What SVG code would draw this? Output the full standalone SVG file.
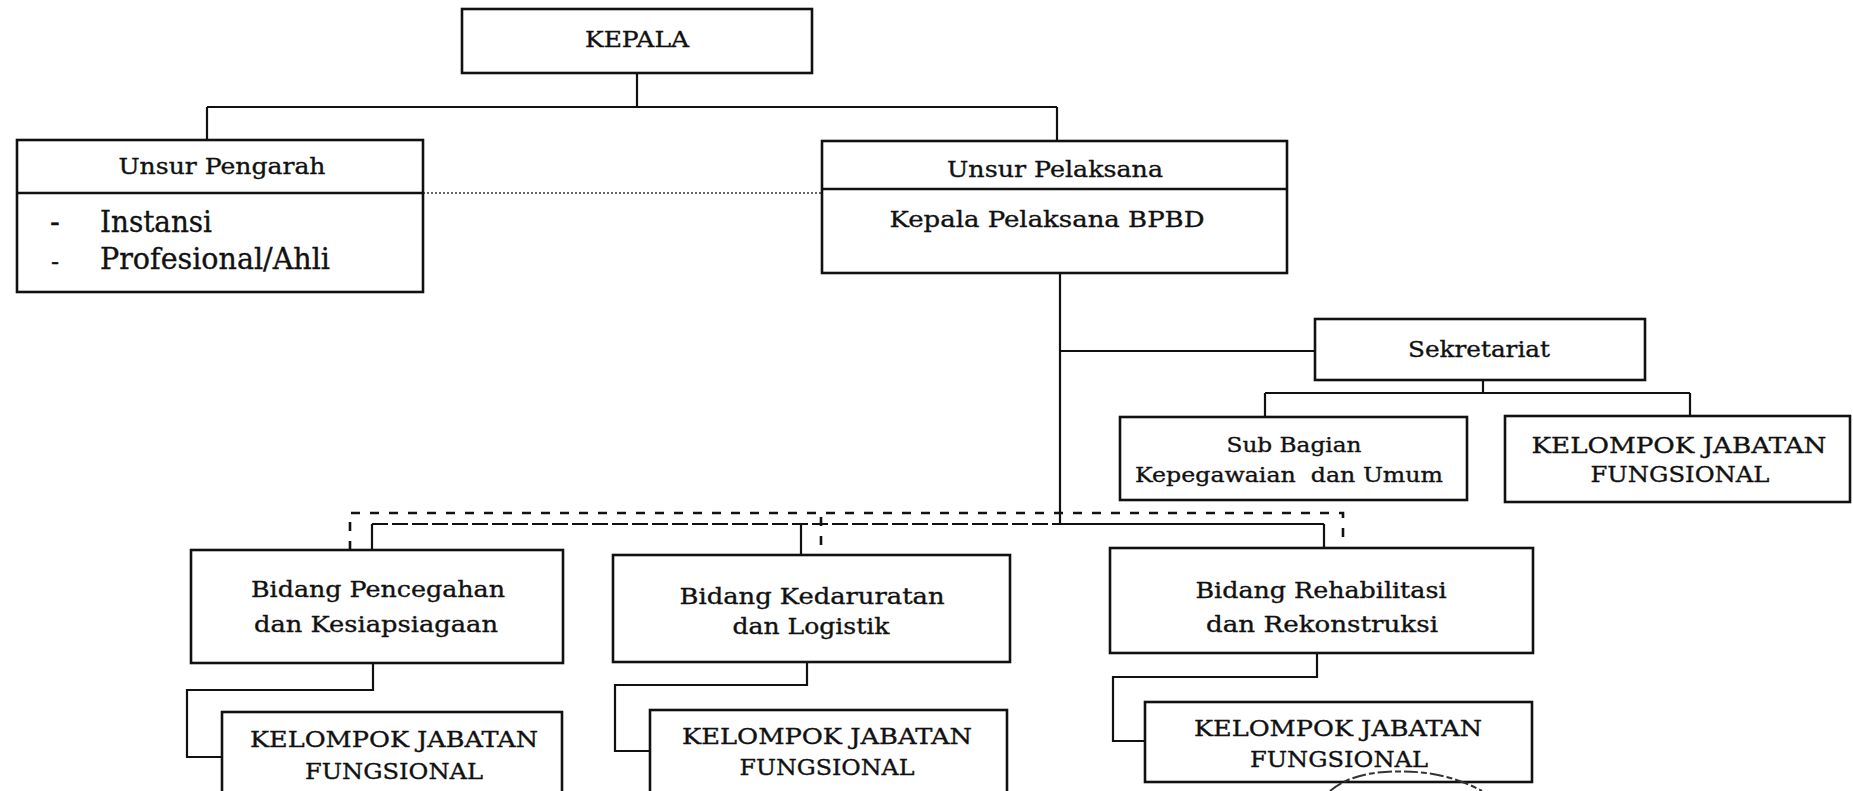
<svg xmlns="http://www.w3.org/2000/svg" width="1853" height="791" viewBox="0 0 1853 791">
<style>
.box{fill:#fff;stroke:#111;stroke-width:2.6}
.div{stroke:#111;stroke-width:2.6}
.ln{fill:none;stroke:#111;stroke-width:2.2}
.dash{fill:none;stroke:#111;stroke-width:2.6;stroke-dasharray:9 10}
.idash{fill:none;stroke:#111;stroke-width:2.2;stroke-dasharray:16 4}
.dot{fill:none;stroke:#333;stroke-width:1.5;stroke-dasharray:2 2}
.t{font-family:"DejaVu Serif","Liberation Serif",serif;fill:#111;stroke:#111;stroke-width:0.35;text-anchor:middle}
.tl{font-family:"DejaVu Serif","Liberation Serif",serif;fill:#111;stroke:#111;stroke-width:0.35;text-anchor:start}
</style>
<rect width="1853" height="791" fill="#fff"/>

<g id="connectors">
  <path class="ln" d="M637 73 V107 M207 107 H1057 M207 107 V140 M1057 107 V141"/>
  <path class="dot" d="M423 193 H822"/>
  <path class="ln" d="M1060 273 V524 M1060 351 H1315"/>
  <path class="ln" d="M1483 380 V393 M1265 393 H1690 M1265 393 V417 M1690 393 V416"/>
  <path class="idash" d="M372 524 H1060"/>
  <path class="ln" d="M1060 524 H1324 M372 524 V550 M801 524 V555 M1324 524 V548"/>
  <path class="dash" d="M350 550 V513 H1343 V548"/>
  <path class="dash" d="M821 517 V555"/>
  <path class="ln" d="M373 663 V690 H187 V757 H222"/>
  <path class="ln" d="M807 662 V685 H615 V751 H650"/>
  <path class="ln" d="M1317 653 V677 H1113 V741 H1145"/>
</g>

<g id="kepala">
  <rect class="box" x="462" y="9" width="350" height="64"/>
  <text class="t" x="637" y="47" font-size="22" textLength="104" lengthAdjust="spacingAndGlyphs">KEPALA</text>
</g>

<g id="unsur-pengarah">
  <rect class="box" x="17" y="140" width="406" height="152"/>
  <line class="div" x1="17" y1="193" x2="423" y2="193"/>
  <text class="t" x="222" y="174" font-size="23" textLength="207" lengthAdjust="spacingAndGlyphs">Unsur Pengarah</text>
  <text class="tl" x="50" y="232" font-size="29">-</text>
  <text class="tl" x="100" y="232" font-size="29" textLength="112" lengthAdjust="spacingAndGlyphs">Instansi</text>
  <text class="tl" x="51" y="270" font-size="24">-</text>
  <text class="tl" x="100" y="269" font-size="29" textLength="230" lengthAdjust="spacingAndGlyphs">Profesional/Ahli</text>
</g>

<g id="unsur-pelaksana">
  <rect class="box" x="822" y="141" width="465" height="132"/>
  <line class="div" x1="822" y1="189" x2="1287" y2="189"/>
  <text class="t" x="1055" y="177" font-size="23" textLength="216" lengthAdjust="spacingAndGlyphs">Unsur Pelaksana</text>
  <text class="t" x="1047" y="227" font-size="23" textLength="315" lengthAdjust="spacingAndGlyphs">Kepala Pelaksana BPBD</text>
</g>

<g id="sekretariat">
  <rect class="box" x="1315" y="319" width="330" height="61"/>
  <text class="t" x="1479" y="357" font-size="23" textLength="142" lengthAdjust="spacingAndGlyphs">Sekretariat</text>
</g>

<g id="sub-bagian">
  <rect class="box" x="1120" y="417" width="347" height="83"/>
  <text class="t" x="1294" y="452" font-size="21" textLength="135" lengthAdjust="spacingAndGlyphs">Sub Bagian</text>
  <text class="t" x="1289" y="482" font-size="21" textLength="308" lengthAdjust="spacingAndGlyphs" xml:space="preserve">Kepegawaian  dan Umum</text>
</g>

<g id="kjf-sekretariat">
  <rect class="box" x="1505" y="416" width="345" height="86"/>
  <text class="t" x="1679" y="453" font-size="23" textLength="295" lengthAdjust="spacingAndGlyphs">KELOMPOK JABATAN</text>
  <text class="t" x="1680" y="482" font-size="23" textLength="179" lengthAdjust="spacingAndGlyphs">FUNGSIONAL</text>
</g>

<g id="bidang-pencegahan">
  <rect class="box" x="191" y="550" width="372" height="113"/>
  <text class="t" x="378" y="597" font-size="22" textLength="254" lengthAdjust="spacingAndGlyphs">Bidang Pencegahan</text>
  <text class="t" x="376" y="632" font-size="22" textLength="244" lengthAdjust="spacingAndGlyphs">dan Kesiapsiagaan</text>
</g>

<g id="bidang-kedaruratan">
  <rect class="box" x="613" y="555" width="397" height="107"/>
  <text class="t" x="812" y="604" font-size="22" textLength="265" lengthAdjust="spacingAndGlyphs">Bidang Kedaruratan</text>
  <text class="t" x="811" y="634" font-size="22" textLength="157" lengthAdjust="spacingAndGlyphs">dan Logistik</text>
</g>

<g id="bidang-rehabilitasi">
  <rect class="box" x="1110" y="548" width="423" height="105"/>
  <text class="t" x="1321" y="598" font-size="22" textLength="251" lengthAdjust="spacingAndGlyphs">Bidang Rehabilitasi</text>
  <text class="t" x="1322" y="632" font-size="22" textLength="232" lengthAdjust="spacingAndGlyphs">dan Rekonstruksi</text>
</g>

<g id="kjf-pencegahan">
  <rect class="box" x="222" y="712" width="340" height="100"/>
  <text class="t" x="394" y="747" font-size="23" textLength="288" lengthAdjust="spacingAndGlyphs">KELOMPOK JABATAN</text>
  <text class="t" x="394" y="779" font-size="23" textLength="178" lengthAdjust="spacingAndGlyphs">FUNGSIONAL</text>
</g>

<g id="kjf-kedaruratan">
  <rect class="box" x="650" y="710" width="357" height="100"/>
  <text class="t" x="827" y="744" font-size="23" textLength="290" lengthAdjust="spacingAndGlyphs">KELOMPOK JABATAN</text>
  <text class="t" x="827" y="775" font-size="23" textLength="175" lengthAdjust="spacingAndGlyphs">FUNGSIONAL</text>
</g>

<g id="kjf-rehabilitasi">
  <rect class="box" x="1145" y="702" width="387" height="80"/>
  <text class="t" x="1338" y="736" font-size="23" textLength="288" lengthAdjust="spacingAndGlyphs">KELOMPOK JABATAN</text>
  <text class="t" x="1339" y="767" font-size="23" textLength="178" lengthAdjust="spacingAndGlyphs">FUNGSIONAL</text>
</g>

<g id="stamp">
  <path d="M1330 791 Q1350 774 1385 772 Q1440 768 1482 791" fill="none" stroke="#333" stroke-width="2" stroke-dasharray="14 3 6 3"/>
</g>
</svg>
